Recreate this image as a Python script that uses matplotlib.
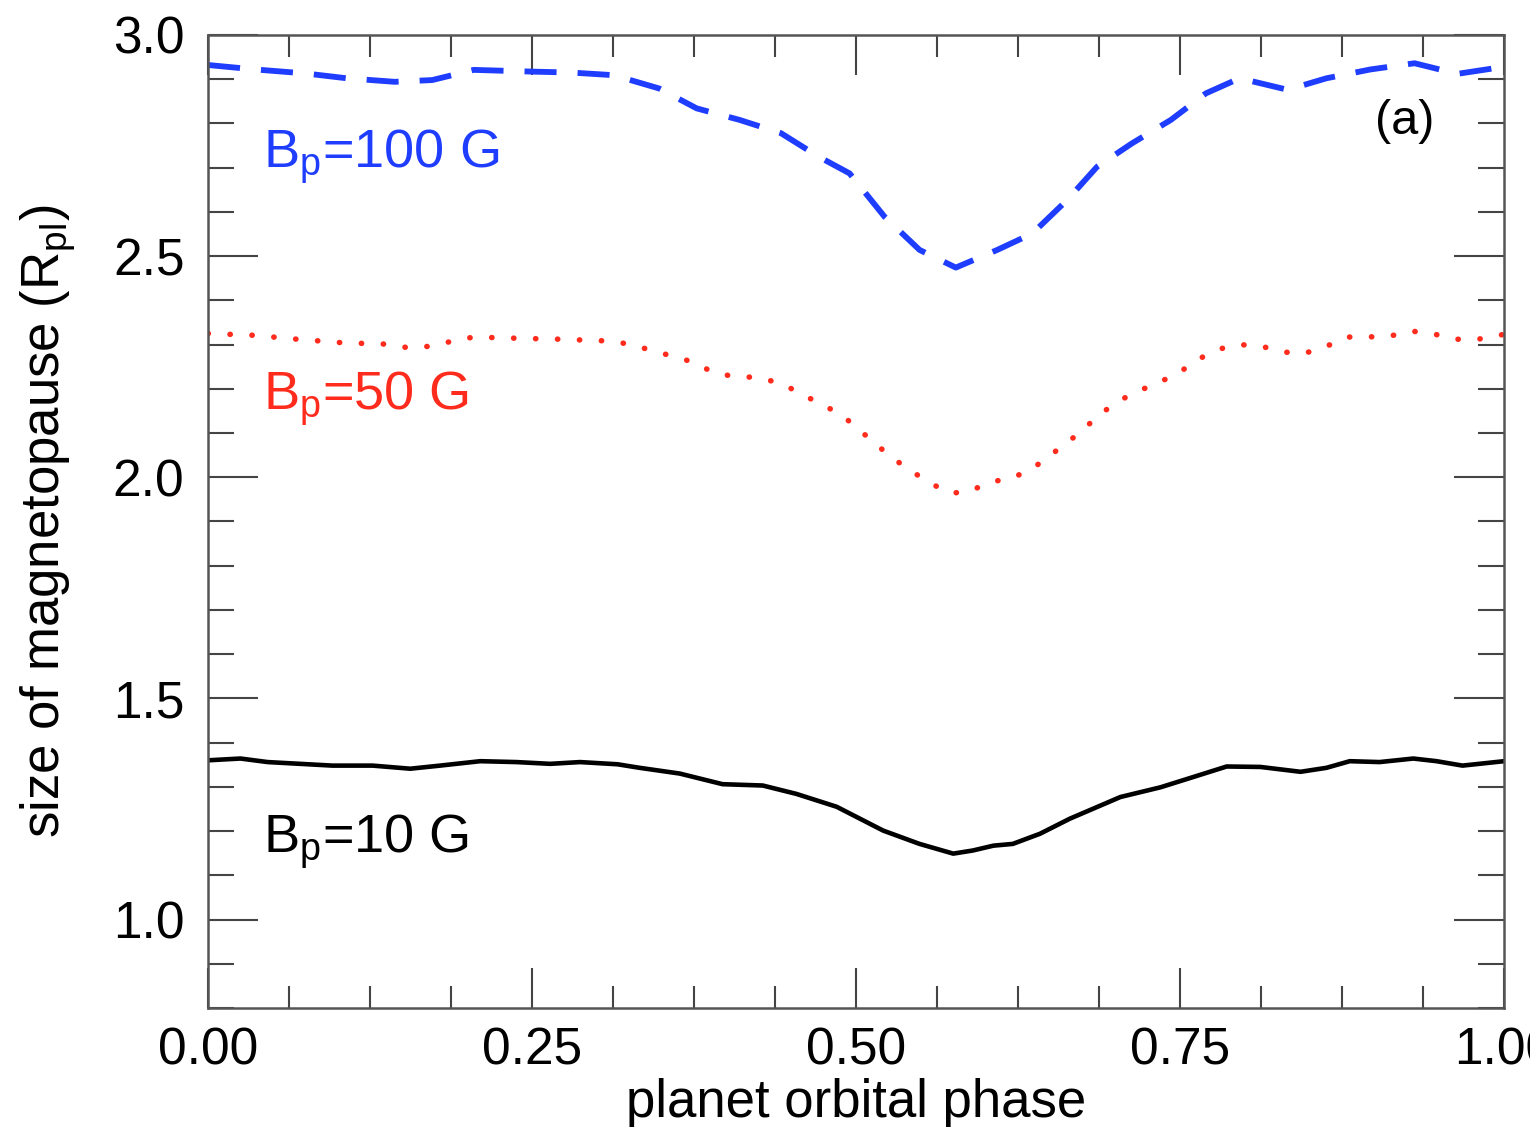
import numpy as np
import matplotlib
matplotlib.use('Agg')
import matplotlib.pyplot as plt
from matplotlib.ticker import MultipleLocator, FormatStrFormatter

plt.rcParams['font.family'] = ['Liberation Sans', 'DejaVu Sans']
plt.rcParams['mathtext.fontset'] = 'custom'
plt.rcParams['mathtext.rm'] = 'Liberation Sans'
plt.rcParams['mathtext.it'] = 'Liberation Sans'

# B_p = 10 G (solid black)
phase_10 = [0.000, 0.025, 0.046, 0.071, 0.096, 0.127, 0.156, 0.179, 0.210, 0.238,
            0.264, 0.287, 0.316, 0.333, 0.364, 0.397, 0.428, 0.454, 0.485, 0.521,
            0.549, 0.575, 0.590, 0.606, 0.621, 0.642, 0.665, 0.704, 0.735, 0.760,
            0.786, 0.812, 0.843, 0.863, 0.881, 0.904, 0.930, 0.948, 0.968, 1.000]
size_10 = [1.360, 1.364, 1.356, 1.352, 1.348, 1.348, 1.341, 1.348, 1.358, 1.356,
           1.352, 1.356, 1.351, 1.343, 1.330, 1.306, 1.303, 1.284, 1.255, 1.201,
           1.171, 1.149, 1.156, 1.167, 1.171, 1.194, 1.228, 1.277, 1.299, 1.322,
           1.346, 1.345, 1.334, 1.343, 1.358, 1.356, 1.364, 1.358, 1.348, 1.358]

# B_p = 50 G (red dotted)
phase_50 = [0.000, 0.035, 0.069, 0.104, 0.137, 0.154, 0.171, 0.189, 0.205, 0.241,
            0.273, 0.309, 0.325, 0.342, 0.358, 0.376, 0.390, 0.408, 0.424, 0.442,
            0.455, 0.471, 0.488, 0.501, 0.514, 0.527, 0.541, 0.556, 0.572, 0.587,
            0.603, 0.619, 0.635, 0.649, 0.663, 0.676, 0.689, 0.703, 0.718, 0.735,
            0.750, 0.763, 0.779, 0.796, 0.813, 0.830, 0.846, 0.863, 0.879, 0.895,
            0.913, 0.930, 0.947, 0.963, 0.980, 1.000]
size_50 = [2.325, 2.321, 2.312, 2.304, 2.301, 2.293, 2.296, 2.308, 2.317, 2.314,
           2.312, 2.308, 2.301, 2.287, 2.274, 2.259, 2.236, 2.227, 2.226, 2.212,
           2.193, 2.168, 2.143, 2.111, 2.078, 2.046, 2.017, 1.989, 1.964, 1.967,
           1.989, 1.997, 2.017, 2.048, 2.078, 2.110, 2.144, 2.173, 2.195, 2.216,
           2.238, 2.265, 2.289, 2.300, 2.296, 2.283, 2.280, 2.296, 2.317, 2.317,
           2.320, 2.330, 2.323, 2.312, 2.312, 2.323]

# B_p = 100 G (blue dashed)
phase_100 = [0.000, 0.036, 0.075, 0.107, 0.144, 0.173, 0.205, 0.251, 0.280, 0.313,
             0.348, 0.377, 0.410, 0.442, 0.471, 0.495, 0.522, 0.549, 0.577, 0.609,
             0.636, 0.663, 0.686, 0.713, 0.743, 0.770, 0.796, 0.833, 0.863, 0.897,
             0.931, 0.964, 1.000]
size_100 = [2.932, 2.922, 2.913, 2.902, 2.894, 2.898, 2.921, 2.917, 2.915, 2.909,
            2.879, 2.834, 2.808, 2.778, 2.725, 2.687, 2.589, 2.514, 2.474, 2.514,
            2.551, 2.627, 2.702, 2.755, 2.808, 2.868, 2.902, 2.876, 2.902, 2.922,
            2.936, 2.912, 2.928]

blue = '#1f3dff'
red = '#ff2b1c'

fig = plt.figure(figsize=(15.3, 11.27), dpi=100)
ax = fig.add_axes([0.136, 0.1056, 0.847, 0.8634])

ax.plot(phase_100, size_100, color=blue, lw=4.2, linestyle=(0, (5.5, 3.6)),
        solid_joinstyle='round')
ax.plot(phase_50, size_50, color=red, lw=4.0, linestyle=(0, (0.05, 3.9)),
        dash_capstyle='round')
ax.plot(phase_10, size_10, color='black', lw=3.3, solid_joinstyle='round')

ax.set_xlim(0, 1)
ax.set_ylim(0.8, 3.0)

ax.xaxis.set_major_locator(MultipleLocator(0.25))
ax.xaxis.set_minor_locator(MultipleLocator(0.0625))
ax.yaxis.set_major_locator(MultipleLocator(0.5))
ax.yaxis.set_minor_locator(MultipleLocator(0.1))
ax.xaxis.set_major_formatter(FormatStrFormatter('%.2f'))
ax.yaxis.set_major_formatter(FormatStrFormatter('%.1f'))

ax.tick_params(axis='both', which='both', direction='in', top=True, right=True,
               colors='#444444', labelcolor='black', width=1.5, labelsize=37)
ax.tick_params(axis='x', which='major', length=29, pad=13)
ax.tick_params(axis='x', which='minor', length=16)
ax.tick_params(axis='y', which='major', length=36, pad=17)
ax.tick_params(axis='y', which='minor', length=19)

for spine in ax.spines.values():
    spine.set_color('#555555')
    spine.set_linewidth(1.8)

ax.set_xlabel('planet orbital phase', fontsize=38, labelpad=2)
ax.set_ylabel(r'size of magnetopause (R$_{\mathrm{pl}}$)', fontsize=38, labelpad=25)

ax.text(0.042, 2.699, r'B$_{\mathrm{p}}$=100 G', color=blue, fontsize=39, va='baseline')
ax.text(0.042, 2.152, r'B$_{\mathrm{p}}$=50 G', color=red, fontsize=39, va='baseline')
ax.text(0.042, 1.152, r'B$_{\mathrm{p}}$=10 G', color='black', fontsize=39, va='baseline')
ax.text(0.946, 2.775, '(a)', color='black', fontsize=35, va='baseline', ha='right')

plt.savefig('out.png', dpi=100)
